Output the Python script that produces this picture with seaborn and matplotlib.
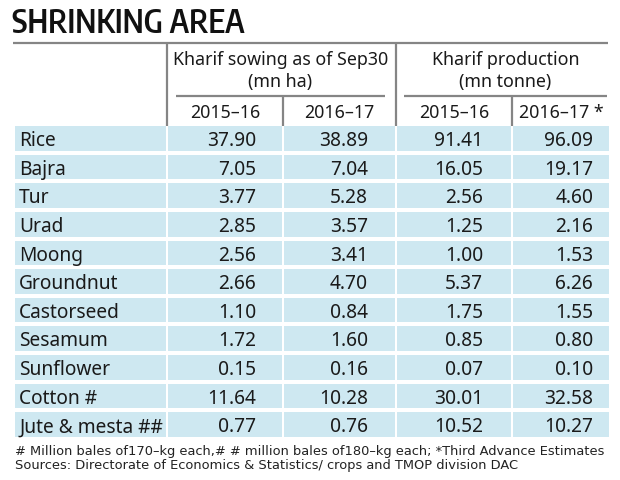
import math
import matplotlib
matplotlib.use("Agg")
import matplotlib.pyplot as plt
from matplotlib.colors import ListedColormap
from matplotlib.lines import Line2D
from matplotlib import font_manager as fm
from matplotlib.font_manager import FontProperties
import numpy as np
import pandas as pd
import seaborn as sns

# ---------------- data ----------------
title = "SHRINKING AREA"
crops = ["Rice", "Bajra", "Tur", "Urad", "Moong", "Groundnut", "Castorseed",
         "Sesamum", "Sunflower", "Cotton #", "Jute & mesta ##"]
sowing_2015_16 = [37.90, 7.05, 3.77, 2.85, 2.56, 2.66, 1.10, 1.72, 0.15, 11.64, 0.77]
sowing_2016_17 = [38.89, 7.04, 5.28, 3.57, 3.41, 4.70, 0.84, 1.60, 0.16, 10.28, 0.76]
production_2015_16 = [91.41, 16.05, 2.56, 1.25, 1.00, 5.37, 1.75, 0.85, 0.07, 30.01, 10.52]
production_2016_17 = [96.09, 19.17, 4.60, 2.16, 1.53, 6.26, 1.55, 0.80, 0.10, 32.58, 10.27]
group_headers = [("Kharif sowing as of Sep30", "(mn ha)"),
                 ("Kharif production", "(mn tonne)")]
year_labels = ["2015\u201316", "2016\u201317", "2015\u201316", "2016\u201317 *"]
footnotes = ["# Million bales of170\u2013kg each,# # million bales of180\u2013kg each; *Third Advance Estimates",
             "Sources: Directorate of Economics & Statistics/ crops and TMOP division DAC"]

table = pd.DataFrame({"crop": crops,
                      "sow15": sowing_2015_16, "sow16": sowing_2016_17,
                      "prod15": production_2015_16, "prod16": production_2016_17}).set_index("crop")

# ---------------- style ----------------
sns.set_theme(style="white")
plt.rcParams["font.family"] = ["Noto Sans", "DejaVu Sans"]

W, H = 620, 481
BAND = "#cee8f1"
TXT = "#1a1a1a"
LINE = "#858585"
FS_BODY = 13.8
FS_HEAD = 12.8

col_left = [15, 168, 284, 397, 513]
col_right = [166, 282, 395, 511, 609]
num_right = [256, 368, 483, 593]
label_x = 19
rows_top, rows_bottom = 127, 438
ROW_GAP_PX = 4
n = len(crops)
cell_px = (rows_bottom - rows_top + ROW_GAP_PX) / n
BASE_OFF = (ROW_GAP_PX / 2 + 19) / cell_px

fig = plt.figure(figsize=(W / 100, H / 100), dpi=100)
fig.patch.set_facecolor("white")

def fx(x):
    return x / W

def fy(y):
    return 1 - y / H

# ---------------- table body ----------------
cols = [None, "sow15", "sow16", "prod15", "prod16"]
for j, col in enumerate(cols):
    l = col_left[j] - ROW_GAP_PX / 2
    r = col_right[j] + ROW_GAP_PX / 2
    top = rows_top - ROW_GAP_PX / 2
    bot = rows_bottom + ROW_GAP_PX / 2
    ax = fig.add_axes([fx(l), fy(bot), (r - l) / W, (bot - top) / H])
    if col is None:
        data = pd.DataFrame({"label": np.zeros(n)}, index=crops)
        annot = False
    else:
        data = table[[col]]
        annot = True
    sns.heatmap(data, ax=ax, cmap=ListedColormap([BAND]), cbar=False, annot=annot,
                fmt=".2f", linewidths=ROW_GAP_PX * 0.72, linecolor="white",
                xticklabels=False, yticklabels=False,
                annot_kws={"fontsize": FS_BODY, "color": TXT})
    ax.set_facecolor("none")
    ax.set_xlabel("")
    ax.set_ylabel("")
    pw = r - l
    if annot:
        for i, t in enumerate(ax.texts):
            t.set_ha("right")
            t.set_va("baseline")
            t.set_x((num_right[j - 1] - l) / pw)
            t.set_y(i + BASE_OFF)
    else:
        for i, name in enumerate(crops):
            ax.text((label_x - l) / pw, i + BASE_OFF, name, ha="left", va="baseline",
                    fontsize=FS_BODY, color=TXT)

# ---------------- header lines ----------------
def hline(y, x0, x1):
    fig.add_artist(Line2D([fx(x0), fx(x1)], [fy(y), fy(y)], color=LINE, lw=1.6,
                          transform=fig.transFigure, solid_capstyle="butt"))

def vline(x, y0, y1):
    fig.add_artist(Line2D([fx(x), fx(x)], [fy(y0), fy(y1)], color=LINE, lw=1.6,
                          transform=fig.transFigure, solid_capstyle="butt"))

hline(44, 13, 608)
vline(167, 44, 127)
vline(396, 44, 127)
sub_spans = [(176, 385), (404, 607)]
for (a, b) in sub_spans:
    hline(97, a, b)
vline(283, 97, 127)
vline(512, 97, 127)

# ---------------- header texts ----------------
for (a, b), (l1, l2) in zip(sub_spans, group_headers):
    cx = (a + b) / 2
    fig.text(fx(cx), fy(65), l1, ha="center", va="baseline", fontsize=FS_HEAD, color=TXT)
    fig.text(fx(cx), fy(87), l2, ha="center", va="baseline", fontsize=FS_HEAD, color=TXT)

for j, lab in enumerate(year_labels):
    cx = (col_left[j + 1] + col_right[j + 1]) / 2
    fig.text(fx(cx), fy(118), lab, ha="center", va="baseline", fontsize=FS_HEAD, color=TXT)

# ---------------- title & footnotes (pick best-fitting faces) ----------------
def _is_narrow(f):
    s = (f.name + " " + f.fname).lower()
    return ("narrow" in s or "condensed" in s
            or str(f.stretch) in ("condensed", "semi-condensed", "extra-condensed"))

def _wnum(w):
    if isinstance(w, (int, float)):
        return w
    return {"bold": 700, "semibold": 600, "demibold": 600, "heavy": 800,
            "black": 900, "extra bold": 800, "normal": 400, "regular": 400,
            "medium": 500, "light": 300}.get(str(w).lower(), 400)

def candidates(bold):
    props = []
    for f in fm.fontManager.ttflist:
        fl = f.fname.lower()
        if f.style != "normal" or "italic" in fl or "oblique" in fl:
            continue
        wn = _wnum(f.weight)
        if bold:
            ok = 600 <= wn <= 720 and not any(k in fl for k in ("black", "extrabold", "heavy"))
        else:
            ok = 380 <= wn <= 450 and not any(k in fl for k in ("light", "thin", "medium"))
        if _is_narrow(f) and ok:
            props.append(FontProperties(fname=f.fname))
    for fam in ["Liberation Sans Narrow", "Roboto", "Lato", "Open Sans", "Noto Sans",
                "Inter", "Liberation Sans", "DejaVu Sans"]:
        props.append(FontProperties(family=fam, weight="bold" if bold else "normal"))
    return props

fig.canvas.draw()
rend = fig.canvas.get_renderer()

def fit_text(x, y, s, target_w, want_size, bold):
    best = None
    for fp in candidates(bold):
        t = fig.text(x, y, s, fontproperties=fp, fontsize=20)
        try:
            w = t.get_window_extent(rend).width
        except Exception:
            t.remove()
            continue
        t.remove()
        size = 20 * target_w / w
        score = abs(math.log(size / want_size))
        if best is None or score < best[0]:
            best = (score, size, fp)
    return best[1], best[2]

ts, tfp = fit_text(fx(12), fy(33), title, 233, 23.0, True)
fig.text(fx(12), fy(33), title, ha="left", va="baseline", fontproperties=tfp,
         fontsize=ts, color="#111111")

fs, ffp = fit_text(fx(15), fy(455), footnotes[0], 585, 9.0, False)
for txt, yb in zip(footnotes, [455, 469]):
    fig.text(fx(15), fy(yb), txt, ha="left", va="baseline", fontproperties=ffp,
             fontsize=fs, color="#222222")

fig.savefig("out.png", dpi=100)
